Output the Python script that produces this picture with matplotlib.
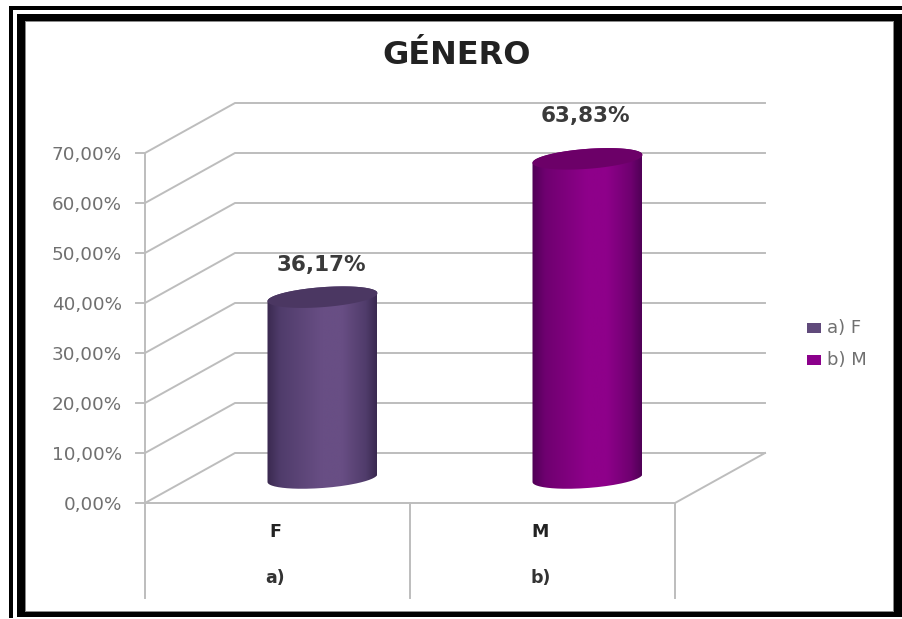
import numpy as np
import matplotlib
matplotlib.use("Agg")
import matplotlib.pyplot as plt
from matplotlib.patches import Rectangle, PathPatch
from matplotlib.path import Path
from matplotlib.colors import LinearSegmentedColormap

title = "GÉNERO"
categories = ["F", "M"]
sublabels = ["a)", "b)"]
legend_labels = ["a) F", "b) M"]
values = [36.17, 63.83]
value_labels = ["36,17%", "63,83%"]
yticks = [0, 10, 20, 30, 40, 50, 60, 70]
ytick_labels = ["0,00%", "10,00%", "20,00%", "30,00%", "40,00%", "50,00%", "60,00%", "70,00%"]
side_cols = ["#3a2950", "#500056"]
near_cols = ["#503c6b", "#6f0070"]
mid_cols = ["#684e84", "#8e008a"]
top_cols = ["#4b3762", "#6c0068"]
legend_cols = ["#604a7b", "#8b008b"]
label_px = [(321, 265), (585, 116)]

W, H = 903, 619
fig = plt.figure(figsize=(W / 100, H / 100), dpi=100, facecolor="white")
ax = fig.add_axes([0, 0, 1, 1])
PX = 265.0   # px per category
PV = 5.0     # px per percent
X0, Y0 = 145, 503
ax.set_xlim(-X0 / PX, (W - X0) / PX)
ax.set_ylim(-(H - Y0) / PV, Y0 / PV)
ax.axis("off")
DX, DV = 90 / PX, 10.0
GRID = "#bdbdbd"
glw = 1.4

def fx(p):
    return (p - X0) / PX

def fy(p):
    return (Y0 - p) / PV

# page frame, expressed in figure pixels
def frame(x0, y0, x1, y1, c="black", z=1):
    fig.add_artist(Rectangle((x0 / W, 1 - y1 / H), (x1 - x0) / W, (y1 - y0) / H,
                             transform=fig.transFigure, fc=c, ec="none", zorder=z))
ax.set_zorder(5)
frame(9, 6, W, 618)
frame(13, 10, W, 618, "white", 2)
frame(17, 14, W, 617, "black", 3)
frame(25, 21, 894, 612, "#8a8a8a", 4)
frame(26, 22, 893, 611, "white", 4)

# grid
for v in yticks:
    ax.plot([0, DX, DX + 2], [v, v + DV, v + DV], color=GRID, lw=glw, zorder=1, solid_joinstyle="miter")
    ax.plot([-9 / PX, 0], [v, v], color=GRID, lw=glw, zorder=1)
    ax.text(-23 / PX, v - 0.35, ytick_labels[v // 10], ha="right", va="center",
            fontsize=13.2, color="#707070", family="DejaVu Sans")
ax.plot([0, 0], [-19, 70], color=GRID, lw=glw, zorder=1)
ax.plot([0, 2, 2 + DX], [0, 0, DV], color=GRID, lw=glw, zorder=1)
for c in [1, 2]:
    ax.plot([c, c], [-19, 0], color=GRID, lw=glw, zorder=1)

# cylinders
a = 55 / PX
b = 10.0 / PV
tilt = 4.0 / PV  # vertical rise across half the width
t = np.linspace(0, 2 * np.pi, 200)
for i, (val, s, n, m, tc) in enumerate(zip(values, side_cols, near_cols, mid_cols, top_cols)):
    cx = i + 0.5 + DX / 2
    cv = DV / 2
    top = cv + val
    tb = np.linspace(np.pi, 2 * np.pi, 80)
    bx = cx + a * np.cos(tb)
    by = cv + b * np.sin(tb) + tilt * np.cos(tb)
    tu = tb - np.pi
    ux = cx + a * np.cos(tu)
    uy = top + b * np.sin(tu) + tilt * np.cos(tu)
    verts = np.vstack([np.c_[bx, by], np.c_[ux, uy], [bx[0], by[0]]])
    clip = PathPatch(Path(verts), fc="none", ec="none", transform=ax.transData)
    ax.add_patch(clip)
    cmap = LinearSegmentedColormap.from_list(
        "c", [(0, s), (0.12, n), (0.5, m), (0.68, m), (0.9, n), (1, s)], N=256)
    grad = np.linspace(0, 1, 256)[None, :]
    im = ax.imshow(grad, extent=[cx - a, cx + a, cv - 5, top + 5], cmap=cmap,
                   aspect="auto", zorder=3, interpolation="bilinear")
    im.set_clip_path(clip)
    ax.fill(cx + a * np.cos(t), top + b * np.sin(t) + tilt * np.cos(t), fc=tc, ec="none", zorder=4)
    ax.text(fx(label_px[i][0]), fy(label_px[i][1]), value_labels[i], ha="center", va="center",
            fontsize=15.5, color="#3a3a3a", family="DejaVu Sans", fontweight="bold")
    ax.text(i + 0.5 - 2 / PX, fy(532), categories[i], ha="center", va="center", fontsize=12.5,
            color="#222222", family="DejaVu Sans", fontweight="bold")
    ax.text(i + 0.5 - 2 / PX, fy(578), sublabels[i], ha="center", va="center", fontsize=12.5,
            color="#333333", family="DejaVu Sans", fontweight="bold")

# title
ax.text(fx(457), fy(55), title, ha="center", va="center", fontsize=23,
        fontweight="bold", family="DejaVu Sans", color="#222222")

# legend
for i, (lab, c) in enumerate(zip(legend_labels, legend_cols)):
    ypx = 328 + i * 32
    ax.add_patch(Rectangle((fx(807), fy(ypx + 5)), 14 / PX, 10 / PV, fc=c, ec="none", zorder=3))
    ax.text(fx(827), fy(ypx), lab, ha="left", va="center", fontsize=13,
            color="#707070", family="DejaVu Sans")

fig.savefig("out.png", dpi=100)
